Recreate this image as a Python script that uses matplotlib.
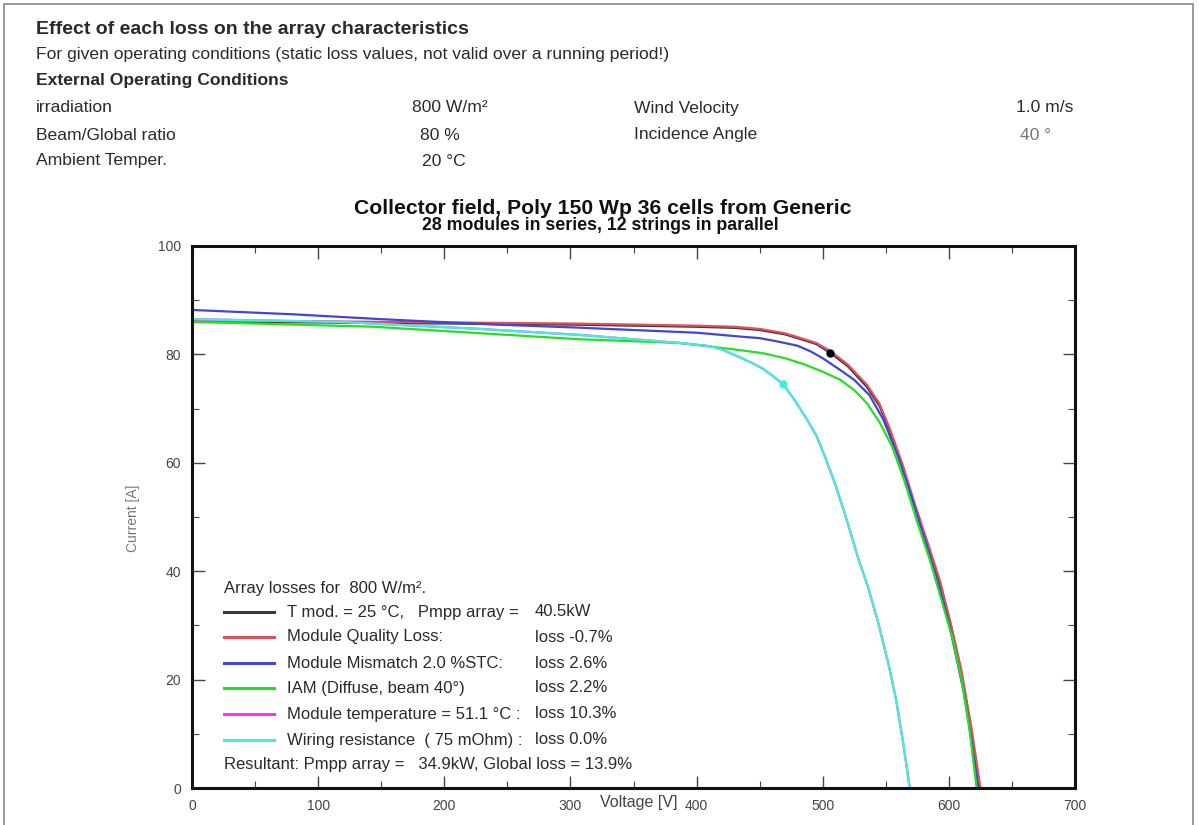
import matplotlib
matplotlib.use("Agg")
import matplotlib.pyplot as plt
from matplotlib.lines import Line2D
from matplotlib.patches import Rectangle
from matplotlib.ticker import MultipleLocator

plt.rcParams['font.family'] = ['Liberation Sans', 'DejaVu Sans']

# ---------------- data ----------------
v_tmod25 = [0, 100, 200, 300, 400, 430, 450, 470, 480, 495, 506, 520, 535, 545, 553, 563, 573, 583, 593, 602, 610, 617, 624]
i_tmod25 = [86.0, 85.9, 85.7, 85.5, 85.1, 84.9, 84.5, 83.7, 83.0, 81.9, 80.3, 77.8, 74.0, 70.5, 66.0, 59.5, 52.0, 45.0, 37.8, 29.5, 21.2, 11.5, 0.0]

v_quality = [0, 100, 200, 300, 400, 430, 450, 470, 480, 495, 506, 520, 535, 545, 553, 563, 573, 583, 593, 602, 610, 618, 625]
i_quality = [86.2, 86.1, 85.9, 85.7, 85.3, 85.1, 84.7, 83.9, 83.2, 82.1, 80.6, 78.1, 74.4, 70.9, 66.4, 59.9, 52.4, 45.4, 38.2, 29.9, 21.6, 11.0, 0.0]

v_mismatch = [0, 80, 150, 240, 300, 400, 434, 450, 466, 480, 490, 500, 514, 525, 537, 548, 560, 570, 580, 590, 600, 612, 618, 623]
i_mismatch = [88.2, 87.4, 86.5, 85.5, 85.0, 84.0, 83.3, 83.0, 82.3, 81.6, 80.6, 79.3, 77.1, 75.3, 72.5, 68.0, 61.0, 54.0, 46.5, 39.0, 30.5, 17.5, 8.5, 0.0]

v_iam = [0, 144, 236, 307, 387, 434, 453, 470, 485, 500, 514, 525, 535, 545, 555, 565, 575, 585, 595, 603, 610, 616, 622]
i_iam = [86.0, 85.1, 83.8, 82.8, 82.1, 80.8, 80.2, 79.3, 78.2, 76.8, 75.3, 73.4, 71.0, 67.5, 63.0, 56.5, 49.0, 42.0, 34.0, 27.5, 20.0, 11.5, 0.0]

v_temp = [0, 117, 228, 307, 387, 411, 420, 434, 445, 453, 460, 468.5, 478, 487.5, 495, 502, 510, 519, 528, 536, 544, 552, 558, 564, 569]
i_temp = [86.5, 86.0, 84.7, 83.6, 82.1, 81.5, 80.9, 79.5, 78.3, 77.3, 76.1, 74.5, 71.5, 68.0, 65.0, 61.0, 56.0, 49.5, 42.5, 37.0, 30.5, 23.0, 16.5, 8.0, 0.0]

v_wiring = [0, 117, 228, 307, 387, 411, 420, 434, 445, 453, 460, 468.5, 478, 487.5, 495, 502, 510, 519, 528, 536, 544, 552, 558, 564, 569]
i_wiring = [86.5, 86.0, 84.7, 83.6, 82.1, 81.5, 80.9, 79.5, 78.3, 77.3, 76.1, 74.5, 71.5, 68.0, 65.0, 61.0, 56.0, 49.5, 42.5, 37.0, 30.5, 23.0, 16.5, 8.0, 0.0]

mpp_ref = (506, 80.3)
mpp_result = (468.5, 74.5)

legend_names = ["T mod. = 25 °C,   Pmpp array =",
                "Module Quality Loss:",
                "Module Mismatch 2.0 %STC:",
                "IAM (Diffuse, beam 40°)",
                "Module temperature = 51.1 °C :",
                "Wiring resistance  ( 75 mOhm) :"]
legend_values = ["40.5kW", "loss -0.7%", "loss 2.6%", "loss 2.2%", "loss 10.3%", "loss 0.0%"]
colors = ["#3a3a3a", "#e0505a", "#4444d8", "#22e022", "#ff30ff", "#40f0d8"]

x_ticks = [0, 100, 200, 300, 400, 500, 600, 700]
y_ticks = [0, 20, 40, 60, 80, 100]

# ---------------- figure ----------------
W, H = 1199, 825
fig = plt.figure(figsize=(W / 100, H / 100), dpi=100)

def fx(x):
    return x / W

def fy(y):
    return 1 - y / H

# page frame
fig.patches.append(Rectangle((fx(4), fy(830)), fx(1193) - fx(4), fy(4) - fy(830),
                             transform=fig.transFigure, fill=False,
                             edgecolor="#888888", lw=1.2))

tc = "#2a2a2a"
hfs = 12.6
fig.text(fx(36), fy(30), "Effect of each loss on the array characteristics",
         fontsize=14.0, fontweight="bold", color=tc, va="center")
fig.text(fx(36), fy(55), "For given operating conditions (static loss values, not valid over a running period!)",
         fontsize=hfs, color=tc, va="center")
fig.text(fx(36), fy(81), "External Operating Conditions",
         fontsize=hfs, fontweight="bold", color=tc, va="center")

rows = [("irradiation", "800 W/m²", 412, "Wind Velocity", "1.0 m/s", 1016, 108),
        ("Beam/Global ratio", "80 %", 420, "Incidence Angle", "40 °", 1020, 135),
        ("Ambient Temper.", "20 °C", 422, None, None, None, 161)]
for l1, v1, x1, l2, v2, x2, yy in rows:
    fig.text(fx(36), fy(yy), l1, fontsize=hfs, color=tc, va="center")
    fig.text(fx(x1), fy(yy), v1, fontsize=hfs, color=tc, va="center")
    if l2:
        fig.text(fx(634), fy(yy), l2, fontsize=hfs, color=tc, va="center")
        fig.text(fx(x2), fy(yy), v2, fontsize=hfs,
                 color=("#777777" if v2.startswith("40") else tc), va="center")

fig.text(fx(603), fy(208), "Collector field, Poly 150 Wp 36 cells from Generic",
         fontsize=15.2, fontweight="bold", color="#111111", ha="center", va="center")
fig.text(fx(600), fy(225), "28 modules in series, 12 strings in parallel",
         fontsize=12.8, fontweight="bold", color="#111111", ha="center", va="center")

# ---------------- axes ----------------
ax = fig.add_axes([fx(192), fy(788), fx(1075) - fx(192), fy(246) - fy(788)])
ax.set_xlim(0, 700)
ax.set_ylim(0, 100)

series = [(v_tmod25, i_tmod25), (v_quality, i_quality), (v_mismatch, i_mismatch),
          (v_iam, i_iam), (v_temp, i_temp), (v_wiring, i_wiring)]
for (vv, ii), c in zip(series, colors):
    ax.plot(vv, ii, color=c, lw=1.6, solid_capstyle="round", solid_joinstyle="round")

ax.plot([mpp_ref[0]], [mpp_ref[1]], "o", color="black", ms=5)
ax.plot([mpp_result[0]], [mpp_result[1]], "o", color=colors[5], ms=5)

for s in ax.spines.values():
    s.set_linewidth(2.2)
    s.set_color("#111111")

ax.set_xticks(x_ticks)
ax.set_yticks(y_ticks)
ax.xaxis.set_minor_locator(MultipleLocator(50))
ax.yaxis.set_minor_locator(MultipleLocator(10))
ax.tick_params(which="both", direction="in", top=True, right=True, color="#444444")
ax.tick_params(which="major", length=9, width=1.0, labelsize=10, labelcolor="#444444", pad=8)
ax.tick_params(which="minor", length=5, width=0.8)

fig.text(fx(639), fy(802), "Voltage [V]", fontsize=11.5, color="#444444", ha="center", va="center")
fig.text(fx(133), fy(518), "Current [A]", fontsize=10, color="#777777",
         rotation=90, ha="center", va="center")

# ---------------- legend (manual) ----------------
lfs = 12.0
fig.text(fx(224), fy(589), "Array losses for  800 W/m².", fontsize=lfs, color=tc, va="center")
row_y = [612, 637, 663, 688, 714, 740]
for yy, name, val, c in zip(row_y, legend_names, legend_values, colors):
    fig.lines.append(Line2D([fx(224), fx(274)], [fy(yy), fy(yy)],
                            transform=fig.transFigure, color=c, lw=2.2))
    fig.text(fx(287), fy(yy), name, fontsize=lfs, color=tc, va="center")
    fig.text(fx(535), fy(yy), val, fontsize=lfs, color=tc, va="center")
fig.text(fx(224), fy(765), "Resultant: Pmpp array =   34.9kW, Global loss = 13.9%",
         fontsize=lfs, color=tc, va="center")

fig.savefig("out.png", dpi=100)
